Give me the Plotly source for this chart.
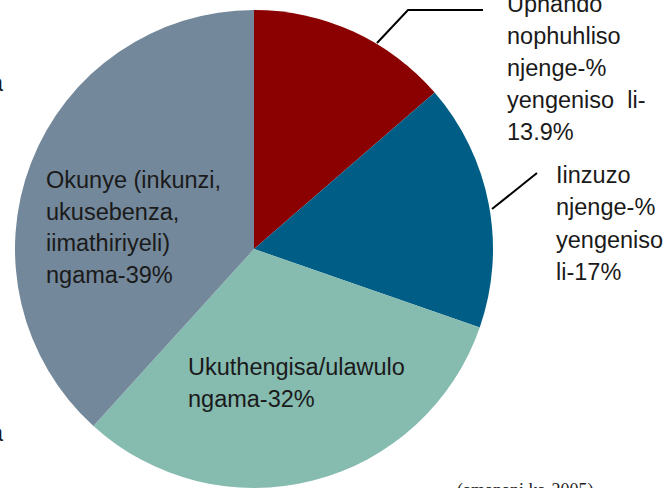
import plotly.graph_objects as go

W, H = 672, 488

categories = [
    "Uphando nophuhliso njenge-% yengeniso li-13.9%",
    "Iinzuzo njenge-% yengeniso li-17%",
    "Ukuthengisa/ulawulo ngama-32%",
    "Okunye (inkunzi, ukusebenza, iimathiriyeli) ngama-39%",
]
values = [13.9, 17, 32, 39]
colors = ["#8B0000", "#005E86", "#86BBB0", "#73889A"]

label_lines = [
    ["Uphando", "nophuhliso", "njenge-%", "yengeniso  li-", "13.9%"],
    ["Iinzuzo", "njenge-%", "yengeniso", "li-17%"],
    ["Ukuthengisa/ulawulo", "ngama-32%"],
    ["Okunye (inkunzi,", "ukusebenza,", "iimathiriyeli)", "ngama-39%"],
]
source_note = "(amanani ka-2005)"


def px(x):
    return x / W


def py(y):
    return 1 - y / H


fig = go.Figure(
    go.Pie(
        labels=categories,
        values=values,
        sort=False,
        direction="clockwise",
        rotation=0,
        marker=dict(colors=colors, line=dict(width=0)),
        textinfo="none",
        hoverinfo="label",
        showlegend=False,
        domain=dict(x=[15 / W, 493 / W], y=[0, 478 / H]),
    )
)

font = dict(family="Liberation Sans, Arial, sans-serif", size=23.5, color="#1a1a1a")
# (left x, first-line centre y, line spacing) for each label block
label_pos = [(505, 4, 32), (554, 175, 32.3), (186, 367, 32), (44, 180, 31.7)]

ann = []
for lines, (lx, ly, dy) in zip(label_lines, label_pos):
    for i, t in enumerate(lines):
        ann.append(dict(
            x=px(lx), y=py(ly + i * dy), xref="paper", yref="paper",
            text=t, showarrow=False, xanchor="left", yanchor="middle",
            font=font,
        ))

ann.append(dict(
    x=px(455), y=py(491), xref="paper", yref="paper", text=source_note,
    showarrow=False, xanchor="left", yanchor="middle",
    font=dict(family="Liberation Serif, Times New Roman, serif", size=18, color="#222222"),
))
for yy in (83, 433):
    ann.append(dict(
        x=px(6), y=py(yy), xref="paper", yref="paper", text="a",
        showarrow=False, xanchor="right", yanchor="middle", font=font,
    ))

line_style = dict(color="black", width=2)
shapes = [
    dict(type="path", xref="paper", yref="paper",
         path=f"M {px(377)} {py(43)} L {px(408)} {py(10)} L {px(483)} {py(10)}",
         line=line_style),
    dict(type="line", xref="paper", yref="paper",
         x0=px(492), y0=py(209), x1=px(537), y1=py(173), line=line_style),
]

fig.update_layout(
    width=W, height=H,
    margin=dict(l=0, r=0, t=0, b=0),
    paper_bgcolor="white", plot_bgcolor="white",
    annotations=ann, shapes=shapes,
)

fig.write_html(
    "out.html",
    config={"displayModeBar": False},
    post_script="document.body.style.margin='0';document.body.style.overflow='hidden';",
)
